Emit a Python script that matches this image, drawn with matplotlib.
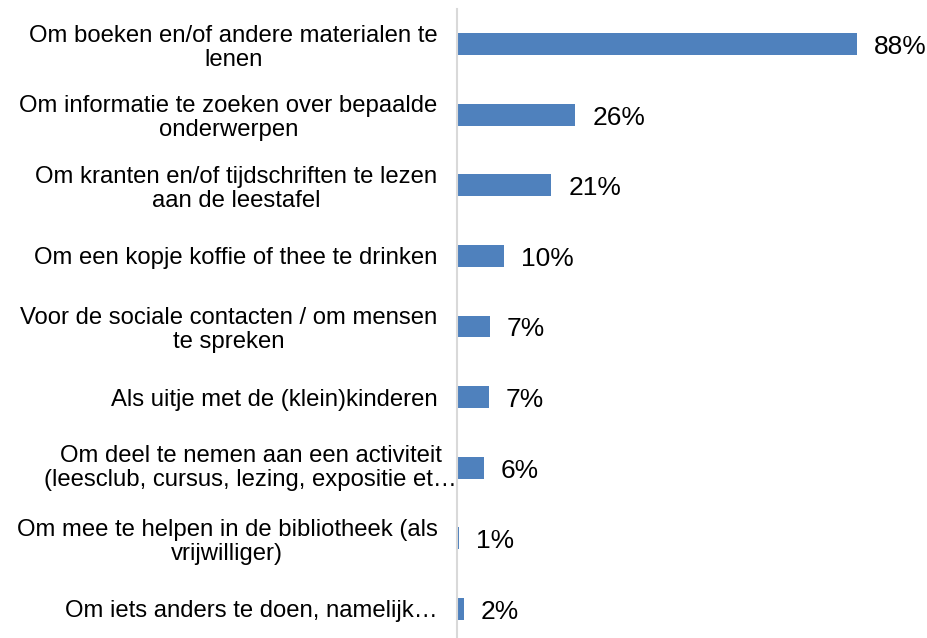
import matplotlib.pyplot as plt
from matplotlib.transforms import blended_transform_factory

plt.rcParams['font.family'] = ['Liberation Sans', 'DejaVu Sans']

categories = [
    "Om boeken en/of andere materialen te\nlenen",
    "Om informatie te zoeken over bepaalde\nonderwerpen",
    "Om kranten en/of tijdschriften te lezen\naan de leestafel",
    "Om een kopje koffie of thee te drinken",
    "Voor de sociale contacten / om mensen\nte spreken",
    "Als uitje met de (klein)kinderen",
    "Om deel te nemen aan een activiteit\n(leesclub, cursus, lezing, expositie et\u2026",
    "Om mee te helpen in de bibliotheek (als\nvrijwilliger)",
    "Om iets anders te doen, namelijk\u2026",
]
values = [88, 26, 20.7, 10.3, 7.2, 7, 5.9, 0.5, 1.5]
value_labels = ["88%", "26%", "21%", "10%", "7%", "7%", "6%", "1%", "2%"]
overflow_idx = 6  # this label runs over the axis line in the original

def main():
    fig = plt.figure(figsize=(9.28, 6.38), dpi=100)
    ax = fig.add_axes([0.4925, -0.0094, 0.49, 0.9953])

    y = list(range(len(categories)))
    ax.barh(y, values, height=0.31, color='#4F81BD')

    for yi, v, lab in zip(y, values, value_labels):
        ax.annotate(lab, (v, yi), xytext=(17, -3), textcoords='offset pixels',
                    ha='left', va='center', fontsize=19, color='black')

    ax.set_xlim(0, 100)
    ax.set_ylim(len(categories) - 0.5, -0.5)
    ax.set_yticks(y)
    ticklabels = [c if i != overflow_idx else '' for i, c in enumerate(categories)]
    ax.set_yticklabels(ticklabels, fontsize=17.2, multialignment='center',
                       linespacing=1.12)
    ax.tick_params(axis='y', length=0, pad=14)
    ax.set_xticks([])

    trans = blended_transform_factory(ax.transAxes, ax.transData)
    ax.text(0, overflow_idx, categories[overflow_idx], transform=trans,
            ha='right', va='center', multialignment='center',
            fontsize=17.2, linespacing=1.12, clip_on=False)

    for s in ['top', 'right', 'bottom']:
        ax.spines[s].set_visible(False)
    ax.spines['left'].set_color('#D9D9D9')
    ax.spines['left'].set_linewidth(1.5)

    fig.savefig('out.png', dpi=100)


if __name__ == "__main__":
    main()
